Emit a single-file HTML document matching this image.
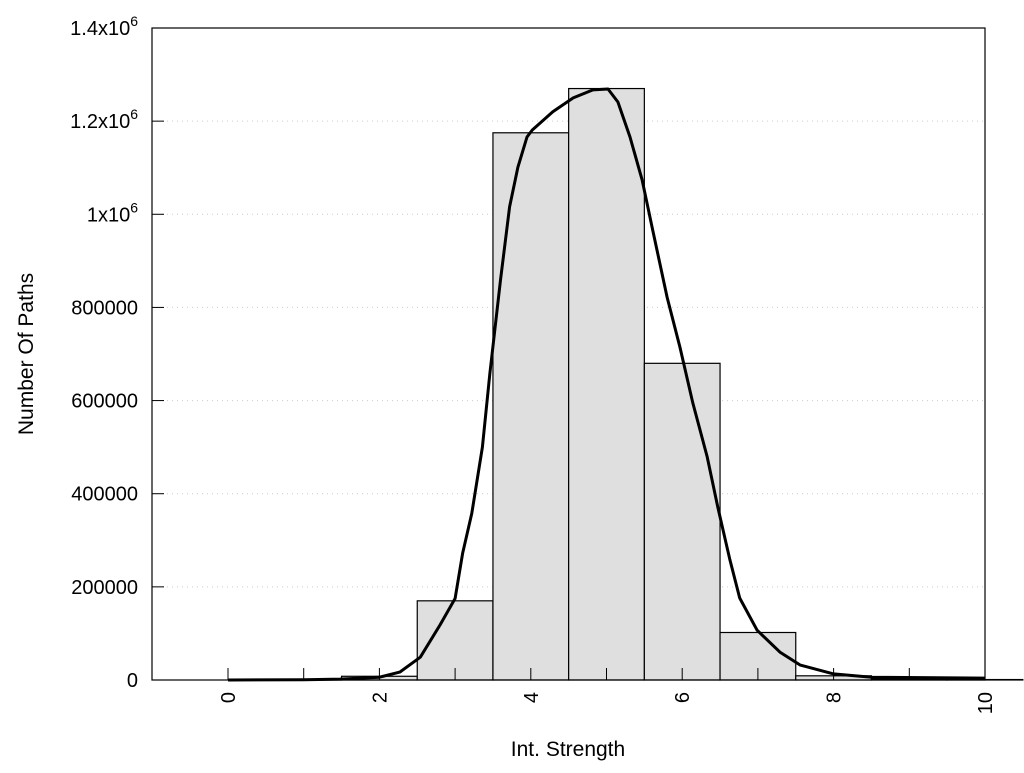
<!DOCTYPE html>
<html><head><meta charset="utf-8"><style>
body{margin:0;background:#fff;font-family:"Liberation Sans",Arial,sans-serif}
svg text{font-family:"Liberation Sans",Arial,sans-serif;fill:#000}
</style></head><body>
<svg id="chart" width="1024" height="768" viewBox="0 0 1024 768" xmlns="http://www.w3.org/2000/svg">
<g id="grid"></g><g id="bars"></g><path id="curve" fill="none" stroke="#000" stroke-width="3" stroke-linejoin="round"/>
<g id="axes"></g>
<rect x="152" y="28" width="833" height="652" fill="none" stroke="#000" stroke-width="1.2"/>
<text x="568" y="756" font-size="21" text-anchor="middle">Int. Strength</text>
<text transform="translate(33,354) rotate(-90)" font-size="21" text-anchor="middle">Number Of Paths</text>
</svg>
<script>
const binCenters=[0,1,2,3,4,5,6,7,8,9,10];
const binCounts=[0,500,8000,170000,1175000,1270000,680000,102000,9000,2000,1000];
const curveX=[0,1,1.48,2.0,2.27,2.54,2.8,3.0,3.1,3.22,3.36,3.46,3.6,3.72,3.83,3.95,4.02,4.29,4.56,4.82,5.02,5.15,5.31,5.47,5.61,5.8,5.97,6.14,6.33,6.47,6.63,6.76,6.99,7.29,7.56,8,8.5,10];
const curveY=[0,500,2000,6000,17000,49000,118000,175000,273000,358000,500000,659000,859000,1016000,1101000,1166000,1181000,1220000,1250000,1267000,1269000,1241000,1166000,1074000,966000,822000,715000,595000,479000,371000,258000,176000,107000,60000,32000,13000,6000,4000];
const yTicks=[0,200000,400000,600000,800000,1000000,1200000,1400000];
const yTickLabels=["0","200000","400000","600000","800000","1x10^6","1.2x10^6","1.4x10^6"];
const xTicks=[0,1,2,3,4,5,6,7,8,9,10];
const xTickLabels=["0","2","4","6","8","10"];
const xLabelVals=[0,2,4,6,8,10];
const NS="http://www.w3.org/2000/svg";
const X=v=>228+(v-0)*75.7, Y=v=>680-v/1400000*652;
function mk(t,p,a){const e=document.createElementNS(NS,t);for(const k in a)e.setAttribute(k,a[k]);p.appendChild(e);return e;}
const grid=document.getElementById('grid'),bars=document.getElementById('bars'),axes=document.getElementById('axes');
yTicks.forEach((v,i)=>{
 if(v>0&&v<1400000){const g=mk('line',grid,{x1:152,x2:985,y1:Y(v),y2:Y(v),stroke:'#ccc','stroke-dasharray':'1 4'});
 
 }
 const t=mk('line',axes,{x1:152,x2:164,y1:Y(v),y2:Y(v),stroke:'#000'});
 
 
 const lb=mk('text',axes,{x:138,y:Y(v)+7,'font-size':20,'text-anchor':'end'});
 
 
 const s=yTickLabels[i].split('^');lb.textContent=s[0];
 if(s[1]){const sp=mk('tspan',lb,{dy:-9,'font-size':14});sp.textContent=s[1];}
});
binCenters.forEach((c,i)=>{
 const r=mk('rect',bars,{x:X(c-0.5),y:Y(binCounts[i]),width:X(c+0.5)-X(c-0.5),height:680-Y(binCounts[i]),fill:'#dfdfdf',stroke:'#000','stroke-width':1.2});
 
 
});
xTicks.forEach(v=>{const t=mk('line',axes,{x1:X(v),x2:X(v),y1:668,y2:680,stroke:'#000'});
 
 });
xLabelVals.forEach((v,i)=>{const lb=mk('text',axes,{transform:`translate(${X(v)+7},692) rotate(-90)`,'font-size':20,'text-anchor':'end'});
 
 
 lb.textContent=xTickLabels[i];});
document.getElementById('curve').setAttribute('d',curveX.map((x,i)=>(i?'L':'M')+X(x).toFixed(1)+' '+Y(curveY[i]).toFixed(1)).join(' '));
</script>
</body></html>
